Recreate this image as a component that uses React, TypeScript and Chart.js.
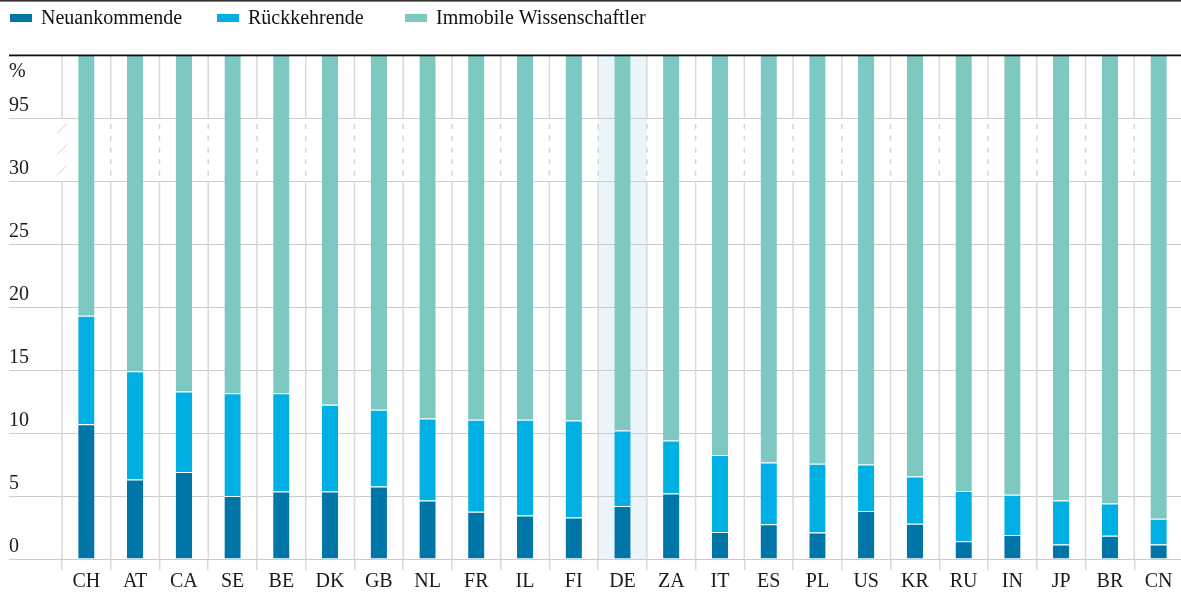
import React, { useEffect, useRef } from 'react';
import { Chart, registerables } from 'chart.js';

Chart.register(...registerables);

const CATEGORIES = ['CH', 'AT', 'CA', 'SE', 'BE', 'DK', 'GB', 'NL', 'FR', 'IL', 'FI', 'DE', 'ZA', 'IT', 'ES', 'PL', 'US', 'KR', 'RU', 'IN', 'JP', 'BR', 'CN'];
const NEUANKOMMENDE = [10.7, 6.3, 6.9, 5.0, 5.35, 5.35, 5.75, 4.65, 3.75, 3.45, 3.3, 4.2, 5.2, 2.15, 2.75, 2.1, 3.8, 2.8, 1.4, 1.9, 1.15, 1.85, 1.15];
const RUECKKEHRENDE = [8.6, 8.6, 6.4, 8.15, 7.8, 6.9, 6.1, 6.5, 7.3, 7.6, 7.7, 6.0, 4.2, 6.1, 4.9, 5.45, 3.7, 3.75, 4.0, 3.2, 3.5, 2.55, 2.05];
const IMMOBILE = [80.7, 85.1, 86.7, 86.85, 86.85, 87.75, 88.15, 88.85, 88.95, 88.95, 89.0, 89.8, 90.6, 91.75, 92.35, 92.45, 92.5, 93.45, 94.6, 94.9, 95.35, 95.6, 96.8];

const SERIES_LABELS = ['Neuankommende', 'Rückkehrende', 'Immobile Wissenschaftler'];
const SERIES_COLORS = ['#0075a8', '#00b0e5', '#7dc8c0'];

const Y_TICKS = [0, 5, 10, 15, 20, 25, 30, 95];
const Y_UNIT = '%';
const HIGHLIGHT = 'DE';

const BREAK_LOW = 30;
const BREAK_HIGH = 95;
const BREAK_SPAN = 5; // axis units used to show the compressed 30–95 stretch
const TOTAL = 100;

const FONT = "'Liberation Serif', 'Times New Roman', serif";
const TEXT_COLOR = '#1a1a1a';
const LEGEND_X = [10, 217, 405];

function toAxis(v: number): number {
  if (v <= BREAK_LOW) return v;
  if (v <= BREAK_HIGH) return BREAK_LOW + ((v - BREAK_LOW) * BREAK_SPAN) / (BREAK_HIGH - BREAK_LOW);
  return v - (BREAK_HIGH - BREAK_LOW) + BREAK_SPAN;
}

const AXIS_MAX = toAxis(TOTAL);
const UNIT_POS = AXIS_MAX - 2.3;

function floating(starts: number[], values: number[]) {
  return values.map((v, i) => [toAxis(starts[i]), toAxis(starts[i] + v)]);
}

const decorPlugin = {
  id: 'decor',
  beforeDraw(chart: any) {
    const { ctx, chartArea, scales } = chart;
    const x = scales.x;
    const i = CATEGORIES.indexOf(HIGHLIGHT);
    const l = x.getPixelForValue(i - 0.5);
    const r = x.getPixelForValue(i + 0.5);
    ctx.save();
    ctx.fillStyle = '#e9f4fb';
    ctx.fillRect(l, chartArea.top, r - l, chartArea.bottom - chartArea.top);
    ctx.restore();
  },
  beforeDatasetsDraw(chart: any) {
    const { ctx, chartArea, scales } = chart;
    const x = scales.x;
    const y = scales.y;
    const yHi = y.getPixelForValue(toAxis(BREAK_HIGH));
    const yLo = y.getPixelForValue(toAxis(BREAK_LOW));
    ctx.save();
    for (let i = 0; i <= CATEGORIES.length; i++) {
      const px = x.getPixelForValue(i - 0.5);
      ctx.strokeStyle = '#d9d9d9';
      ctx.lineWidth = 1.5;
      ctx.setLineDash([]);
      ctx.beginPath();
      ctx.moveTo(px, chartArea.top);
      ctx.lineTo(px, yHi);
      ctx.moveTo(px, yLo);
      ctx.lineTo(px, chartArea.bottom);
      ctx.stroke();
      if (i === 0) {
        ctx.strokeStyle = '#cfcfcf';
        ctx.lineWidth = 1;
        for (let k = 0; k < 3; k++) {
          const cy = yHi + ((yLo - yHi) * (k + 0.5)) / 3;
          ctx.beginPath();
          ctx.moveTo(px - 5, cy + 5);
          ctx.lineTo(px + 5, cy - 5);
          ctx.stroke();
        }
      } else {
        ctx.strokeStyle = '#d4d4d4';
        ctx.lineWidth = 1.5;
        ctx.setLineDash([5, 6.7]);
        ctx.beginPath();
        ctx.moveTo(px, yHi + 6);
        ctx.lineTo(px, yLo - 2);
        ctx.stroke();
      }
    }
    ctx.restore();
  },
  afterDatasetsDraw(chart: any) {
    const { ctx, chartArea, width } = chart;
    ctx.save();
    ctx.fillStyle = '#111';
    ctx.fillRect(9, chartArea.top - 0.5, width - 9, 1.8);
    ctx.fillStyle = '#333';
    ctx.fillRect(0, 0, width, 1.6);
    ctx.restore();
  },
  afterDraw(chart: any) {
    const { ctx } = chart;
    ctx.save();
    ctx.font = `20px ${FONT}`;
    ctx.textBaseline = 'alphabetic';
    chart.data.datasets.forEach((ds: any, i: number) => {
      const cx = LEGEND_X[i];
      ctx.fillStyle = ds.backgroundColor;
      ctx.fillRect(cx, 14, 22, 8);
      ctx.fillStyle = '#111';
      ctx.fillText(ds.label, cx + 31, 24);
    });
    ctx.restore();
  },
};

export default function App() {
  const ref = useRef<HTMLCanvasElement | null>(null);

  useEffect(() => {
    if (!ref.current) return;
    const zeros = CATEGORIES.map(() => 0);
    const afterNew = NEUANKOMMENDE.map((v) => v);
    const afterRet = NEUANKOMMENDE.map((v, i) => v + RUECKKEHRENDE[i]);
    const chart = new Chart(ref.current, {
      type: 'bar',
      data: {
        labels: CATEGORIES,
        datasets: [
          { label: SERIES_LABELS[0], data: floating(zeros, NEUANKOMMENDE), backgroundColor: SERIES_COLORS[0] },
          { label: SERIES_LABELS[1], data: floating(afterNew, RUECKKEHRENDE), backgroundColor: SERIES_COLORS[1] },
          { label: SERIES_LABELS[2], data: floating(afterRet, IMMOBILE), backgroundColor: SERIES_COLORS[2] },
        ] as any,
      },
      options: {
        animation: false,
        responsive: true,
        maintainAspectRatio: false,
        layout: { padding: { top: 55, left: 9, right: 0, bottom: 0 } },
        datasets: {
          bar: {
            barPercentage: 0.335,
            categoryPercentage: 1,
            borderWidth: { top: 1, left: 0, right: 0, bottom: 0 },
            borderColor: '#ffffff',
            borderSkipped: false,
          },
        } as any,
        plugins: {
          legend: { display: false },
          tooltip: { enabled: false },
        },
        scales: {
          x: {
            stacked: true,
            offset: true,
            grid: {
              offset: true,
              drawOnChartArea: false,
              drawTicks: true,
              tickLength: 11,
              color: '#d9d9d9',
              lineWidth: 1.5,
            },
            border: { display: false },
            ticks: {
              padding: 0,
              color: TEXT_COLOR,
              font: { family: FONT, size: 20 },
              autoSkip: false,
              maxRotation: 0,
            },
            afterFit: (s: any) => {
              s.height = 34;
            },
          },
          y: {
            stacked: false,
            min: 0,
            max: AXIS_MAX,
            afterBuildTicks: (s: any) => {
              s.ticks = [...Y_TICKS.map((v) => ({ value: toAxis(v) })), { value: UNIT_POS }];
            },
            afterFit: (s: any) => {
              s.width = 53;
            },
            grid: {
              color: (c: any) => (c.index === Y_TICKS.length ? 'rgba(0,0,0,0)' : '#cccccc'),
              tickColor: (c: any) => (c.index === Y_TICKS.length ? 'rgba(0,0,0,0)' : '#cccccc'),
              lineWidth: 1,
              drawTicks: true,
              tickLength: 53,
            },
            border: { display: false },
            ticks: {
              crossAlign: 'far',
              padding: 0,
              labelOffset: -12,
              autoSkip: false,
              color: TEXT_COLOR,
              font: { family: FONT, size: 20 },
              callback: (_v: any, i: number) => (i < Y_TICKS.length ? String(Y_TICKS[i]) : Y_UNIT),
            },
          },
        },
      },
      plugins: [decorPlugin],
    });
    return () => chart.destroy();
  }, []);

  return (
    <div style={{ position: 'fixed', left: 0, top: 0, right: 0, bottom: 0, overflow: 'hidden', background: '#fff' }}>
      <div style={{ position: 'relative', width: 1183, height: 593 }}>
        <canvas ref={ref} />
      </div>
    </div>
  );
}
